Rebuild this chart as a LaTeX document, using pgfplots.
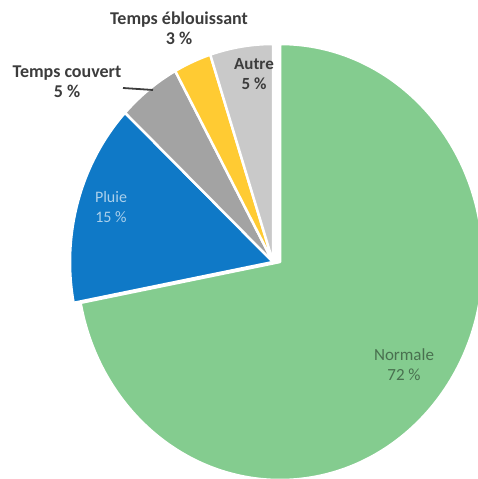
\documentclass[border=0pt]{standalone}
\usepackage{pgfplots}
\pgfplotsset{compat=1.18}
\usepackage{fontspec}
\setmainfont{Carlito}
\definecolor{cnorm}{HTML}{84CC8F}
\definecolor{cpluie}{HTML}{0F79C7}
\definecolor{ccouv}{HTML}{A3A3A3}
\definecolor{cebl}{HTML}{FFCB33}
\definecolor{cautre}{HTML}{C9C9C9}
\definecolor{ctxt}{HTML}{3C3C3C}
\begin{document}
\begin{tikzpicture}
\begin{axis}[hide axis, scale only axis, width=477pt, height=479pt,
  xmin=0, xmax=477, ymin=0, ymax=479, clip=false]
% values (%): Normale 72, Pluie 15, Temps couvert 5, Temps eblouissant 3, Autre 5
\filldraw[fill=cnorm, draw=white, line width=2.5pt, line join=round]
  (axis cs:280,217) -- ++(90:203pt and 218pt)
  arc[start angle=90, end angle=90-3.6*72, x radius=203pt, y radius=218pt] -- cycle;
\filldraw[fill=cpluie, draw=white, line width=2.5pt, line join=round]
  (axis cs:273,217) -- ++(90-3.6*72:203pt and 218pt)
  arc[start angle=90-3.6*72, end angle=90-3.6*87, x radius=203pt, y radius=218pt] -- cycle;
\filldraw[fill=ccouv, draw=white, line width=2.5pt, line join=round]
  (axis cs:273,217) -- ++(90-3.6*87:203pt and 218pt)
  arc[start angle=90-3.6*87, end angle=90-3.6*92, x radius=203pt, y radius=218pt] -- cycle;
\filldraw[fill=cebl, draw=white, line width=2.5pt, line join=round]
  (axis cs:273,217) -- ++(90-3.6*92:203pt and 218pt)
  arc[start angle=90-3.6*92, end angle=90-3.6*95, x radius=203pt, y radius=218pt] -- cycle;
\filldraw[fill=cautre, draw=white, line width=2.5pt, line join=round]
  (axis cs:273,217) -- ++(90-3.6*95:203pt and 218pt)
  arc[start angle=90-3.6*95, end angle=90-3.6*100, x radius=203pt, y radius=218pt] -- cycle;
\draw[ctxt, line width=1.8pt] (axis cs:123,391) -- (axis cs:153,389);
\node[align=center, text=ctxt, font=\fontsize{18}{20}\selectfont\bfseries] at (axis cs:179,451) {Temps éblouissant\\3 \%};
\node[align=center, text=ctxt, font=\fontsize{18}{20}\selectfont\bfseries] at (axis cs:67,397) {Temps couvert\\5 \%};
\node[align=center, text=ctxt, font=\fontsize{17}{20}\selectfont\bfseries] at (axis cs:254,405) {Autre\\5 \%};
\node[align=center, text=cpluie!35!white, font=\fontsize{16}{20}\selectfont] at (axis cs:111,272) {Pluie\\15 \%};
\node[align=center, text=cnorm!55!black, font=\fontsize{17}{20}\selectfont] at (axis cs:404,114) {Normale\\72 \%};
\end{axis}
\pgfresetboundingbox
\useasboundingbox (0,0) rectangle (477pt,479pt);
\end{tikzpicture}
\end{document}
